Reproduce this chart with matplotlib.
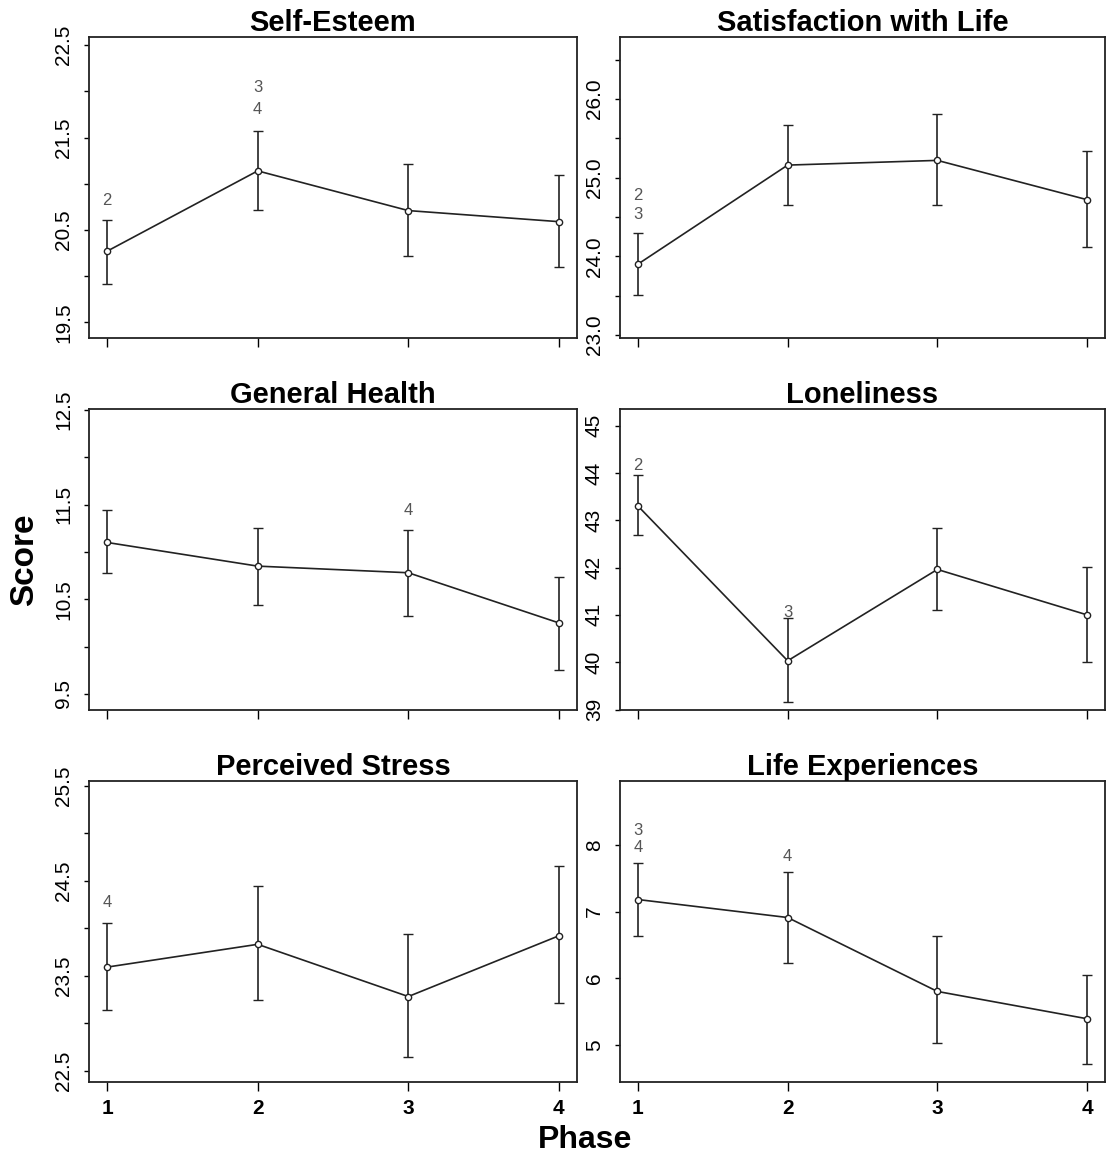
import numpy as np
import matplotlib
matplotlib.use("Agg")
import matplotlib.pyplot as plt

plt.rcParams['font.family'] = ['Liberation Sans', 'DejaVu Sans']

phase = [1, 2, 3, 4]

titles = ["Self-Esteem", "Satisfaction with Life", "General Health",
          "Loneliness", "Perceived Stress", "Life Experiences"]

# mean, upper and lower end of the error bar for each scale
se_mean = [20.27, 21.14, 20.71, 20.59]
se_hi = [20.61, 21.57, 21.21, 21.09]
se_lo = [19.91, 20.72, 20.22, 20.10]

swl_mean = [23.90, 25.16, 25.22, 24.72]
swl_hi = [24.30, 25.67, 25.81, 25.34]
swl_lo = [23.51, 24.65, 24.65, 24.12]

gh_mean = [11.10, 10.85, 10.78, 10.25]
gh_hi = [11.44, 11.25, 11.23, 10.73]
gh_lo = [10.78, 10.44, 10.32, 9.75]

lon_mean = [43.30, 40.03, 41.96, 41.00]
lon_hi = [43.95, 40.93, 42.83, 42.01]
lon_lo = [42.69, 39.16, 41.11, 40.00]

ps_mean = [23.59, 23.83, 23.28, 23.92]
ps_hi = [24.05, 24.44, 23.94, 24.65]
ps_lo = [23.14, 23.24, 22.64, 23.21]

le_mean = [7.18, 6.91, 5.80, 5.39]
le_hi = [7.73, 7.60, 6.63, 6.04]
le_lo = [6.63, 6.22, 5.03, 4.71]

# y limits and ticks (every other tick gets a label)
ylims = [(19.33, 22.59), (22.96, 26.79), (9.33, 12.51),
         (38.99, 45.35), (22.38, 25.55), (4.44, 8.96)]
yticks = [[19.5, 20.0, 20.5, 21.0, 21.5, 22.0, 22.5],
          [23.0, 23.5, 24.0, 24.5, 25.0, 25.5, 26.0, 26.5],
          [9.5, 10.0, 10.5, 11.0, 11.5, 12.0, 12.5],
          [39, 40, 41, 42, 43, 44, 45],
          [22.5, 23.0, 23.5, 24.0, 24.5, 25.0, 25.5],
          [5, 6, 7, 8]]
ytlabels = [["19.5", "", "20.5", "", "21.5", "", "22.5"],
            ["23.0", "", "24.0", "", "25.0", "", "26.0", ""],
            ["9.5", "", "10.5", "", "11.5", "", "12.5"],
            ["39", "40", "41", "42", "43", "44", "45"],
            ["22.5", "", "23.5", "", "24.5", "", "25.5"],
            ["5", "6", "7", "8"]]

# significance marks: (phase, y, text)
notes = [[(1, 20.82, "2"), (2, 22.04, "3"), (2, 21.80, "4")],
         [(1, 24.77, "2"), (1, 24.53, "3")],
         [(3, 11.44, "4")],
         [(1, 44.15, "2"), (2, 41.06, "3")],
         [(1, 24.27, "4")],
         [(1, 8.21, "3"), (1, 7.96, "4"), (2, 7.82, "4")]]

means = [se_mean, swl_mean, gh_mean, lon_mean, ps_mean, le_mean]
his = [se_hi, swl_hi, gh_hi, lon_hi, ps_hi, le_hi]
los = [se_lo, swl_lo, gh_lo, lon_lo, ps_lo, le_lo]

W, H = 1108, 1160
fig = plt.figure(figsize=(W / 100, H / 100), dpi=100)

col_x = [89, 620]
col_w = [488, 485]
row_top = [37, 409, 781]
row_h = 301

for i in range(6):
    r, c = i // 2, i % 2
    ax = fig.add_axes([col_x[c] / W, 1 - (row_top[r] + row_h) / H,
                       col_w[c] / W, row_h / H])
    m = np.array(means[i])
    yerr = [m - np.array(los[i]), np.array(his[i]) - m]
    ax.errorbar(phase, m, yerr=yerr, color='#222222', lw=1.2, elinewidth=1.2,
                capsize=3.5, capthick=1.2, marker='o', ms=4.5, mfc='white',
                mec='#222222', mew=1.0)
    for x, y, t in notes[i]:
        ax.text(x, y, t, ha='center', va='center', fontsize=12, color='#555555')
    ax.set_xlim(0.88, 4.12)
    ax.set_ylim(*ylims[i])
    ax.set_xticks(phase)
    ax.set_yticks(yticks[i])
    ax.set_yticklabels(ytlabels[i], rotation=90, va='center', fontsize=15)
    if r == 2:
        ax.set_xticklabels([str(p) for p in phase], fontsize=15, fontweight='bold')
    else:
        ax.set_xticklabels([])
    ax.tick_params(axis='y', direction='out', length=3.6, width=1.0, pad=8)
    ax.tick_params(axis='x', direction='out', length=6.5, width=1.0, pad=6)
    for s in ax.spines.values():
        s.set_linewidth(1.3)
        s.set_color('#222222')
    ax.set_title(titles[i], fontsize=21, fontweight='bold', pad=4)

fig.text(25 / W, 1 - 560 / H, "Score", rotation=90, ha='center', va='center',
         fontsize=24, fontweight='bold')
fig.text(585 / W, 1 - 1140 / H, "Phase", ha='center', va='center',
         fontsize=23, fontweight='bold')

fig.savefig("out.png", dpi=100, facecolor='white')
